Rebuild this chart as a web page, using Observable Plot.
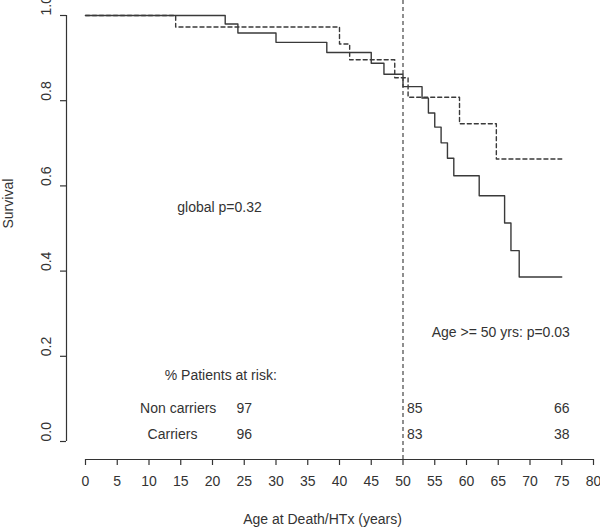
<!DOCTYPE html>
<html>
<head>
<meta charset="utf-8">
<script src="https://cdn.jsdelivr.net/npm/d3@7"></script>
<script src="https://cdn.jsdelivr.net/npm/@observablehq/plot@0.6"></script>
<style>
  html, body { margin: 0; padding: 0; background: #fff; }
</style>
</head>
<body>
<div id="chart"></div>
<script>
// ---- data ----
const carriersAge      = [0, 22, 24, 30, 38, 45, 47, 50, 53, 54, 55, 56, 57, 58, 62, 66, 67, 68.3, 75];
const carriersSurv     = [1.0, 0.980, 0.959, 0.937, 0.913, 0.888, 0.862, 0.833, 0.806, 0.771, 0.738, 0.701, 0.665, 0.624, 0.577, 0.513, 0.448, 0.386, 0.386];
const nonCarriersAge   = [0, 14.2, 40, 41.6, 48.7, 50.8, 58.9, 64.7, 75];
const nonCarriersSurv  = [1.0, 0.973, 0.933, 0.896, 0.854, 0.808, 0.746, 0.663, 0.663];

const xTicks = [0, 5, 10, 15, 20, 25, 30, 35, 40, 45, 50, 55, 60, 65, 70, 75, 80];
const yTicks = [0, 0.2, 0.4, 0.6, 0.8, 1.0];
const cutoffAge = [50];

const riskAges        = [25, 50, 75];
const riskNonCarriers = [97, 85, 66];
const riskCarriers    = [96, 83, 38];
const groupLabels     = ["Non carriers", "Carriers"];

const xLabel = "Age at Death/HTx (years)";
const yLabel = "Survival";
const globalP = "global p=0.32";
const ageP = "Age >= 50 yrs: p=0.03";
const riskTitle = "% Patients at risk:";

// ---- build tables ----
const carriers = carriersAge.map((a, i) => ({age: a, s: carriersSurv[i]}));
const nonCarriers = nonCarriersAge.map((a, i) => ({age: a, s: nonCarriersSurv[i]}));
const riskRows = [];
riskAges.forEach((a, i) => {
  riskRows.push({age: a, row: 0, v: riskNonCarriers[i]});
  riskRows.push({age: a, row: 1, v: riskCarriers[i]});
});
const rowY = [0.0775, 0.0164];

const ink = "#333";
const lineInk = "#3a3a3a";
const font = "'Liberation Sans', Arial, Helvetica, sans-serif";

const chart = Plot.plot({
  width: 600,
  height: 531,
  marginTop: 0,
  marginBottom: 72,
  marginLeft: 66,
  marginRight: 7,
  style: {fontFamily: font, fontSize: "14px", color: ink, background: "#fff", overflow: "visible"},
  x: {domain: [0, 80], range: [85, 593]},
  y: {domain: [0, 1], range: [441, 15]},
  marks: [
    // axes
    Plot.ruleY([0], {x1: 0, x2: 80, dy: 18, stroke: ink, strokeWidth: 1.2}),
    Plot.axisX({ticks: xTicks, tickSize: 6, tickPadding: 11, fontSize: 14, label: null, stroke: ink, strokeWidth: 1.2, fill: ink}),
    Plot.ruleX([0], {y1: 0, y2: 1, dx: -19, stroke: ink, strokeWidth: 1.2}),
    Plot.axisY({ticks: yTicks, tickSize: 6, tickFormat: () => "", label: null, stroke: ink, strokeWidth: 1.2}),
    Plot.text(yTicks, {y: d => d, frameAnchor: "left", dx: -20, rotate: -90, text: d => d.toFixed(1), fontSize: 14, fill: ink}),
    Plot.text([yLabel], {y: 0.5, frameAnchor: "left", dx: -58, rotate: -90, text: d => d, fontSize: 14, fill: ink}),
    Plot.text([xLabel], {frameAnchor: "bottom", dx: -7.5, dy: 64, text: d => d, fontSize: 14, fill: ink}),
    // cutoff line
    Plot.ruleX(cutoffAge, {stroke: ink, strokeWidth: 1.1, strokeDasharray: "4,3"}),
    // survival curves
    Plot.line(nonCarriers, {x: "age", y: "s", curve: "step-after", stroke: lineInk, strokeWidth: 1.4, strokeDasharray: "4,3"}),
    Plot.line(carriers, {x: "age", y: "s", curve: "step-after", stroke: lineInk, strokeWidth: 1.4}),
    // annotations
    Plot.text([globalP], {x: 21.1, y: 0.549, text: d => d, fontSize: 14, fill: ink}),
    Plot.text([ageP], {x: 65.4, y: 0.256, text: d => d, fontSize: 14, fill: ink}),
    Plot.text([riskTitle], {x: 21.3, y: 0.155, text: d => d, fontSize: 14, fill: ink}),
    Plot.text(groupLabels, {x: (d, i) => i === 0 ? 14.6 : 13.7, y: (d, i) => rowY[i], text: d => d, fontSize: 14, fill: ink}),
    Plot.text(riskRows.filter(d => d.age !== 50), {x: "age", y: d => rowY[d.row], text: "v", fontSize: 14, fill: ink}),
    Plot.text(riskRows.filter(d => d.age === 50), {x: "age", y: d => rowY[d.row], text: "v", textAnchor: "start", dx: 4, fontSize: 14, fill: ink})
  ]
});
document.getElementById("chart").appendChild(chart);
</script>
</body>
</html>
